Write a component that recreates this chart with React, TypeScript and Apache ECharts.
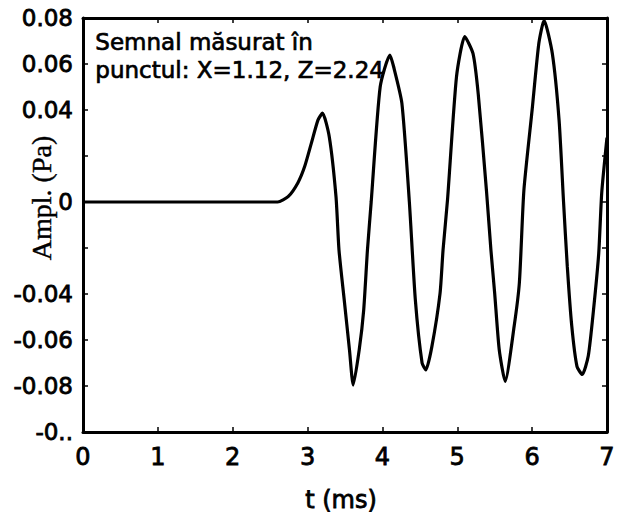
import React, { useEffect, useRef } from "react";
import * as echarts from "echarts";

// time (ms)
const timeMs = [
  0, 2.6, 2.74, 2.87, 2.96, 3.05, 3.14, 3.2, 3.29, 3.38, 3.42, 3.49, 3.56, 3.61,
  3.69, 3.75, 3.8, 3.85, 3.97, 4.1, 4.15, 4.26, 4.36, 4.44, 4.53, 4.58, 4.66,
  4.77, 4.81, 4.87, 4.99, 5.1, 5.21, 5.28, 5.39, 5.45, 5.5, 5.56, 5.64, 5.76,
  5.83, 5.89, 6.0, 6.09, 6.16, 6.27, 6.36, 6.42, 6.47, 6.53, 6.6, 6.67, 6.75,
  6.82, 6.89, 6.93, 7.0,
];
// amplitude (Pa)
const amplitudePa = [
  0, 0, 0.0023, 0.0083, 0.0153, 0.0255, 0.0357, 0.0386, 0.0284, 0.0023, -0.0209,
  -0.0426, -0.0643, -0.0796, -0.0643, -0.047, -0.0209, 0, 0.05, 0.0639, 0.0588,
  0.043, 0, -0.0426, -0.07, -0.073, -0.063, -0.0397, -0.0209, 0.001, 0.0545,
  0.0719, 0.0646, 0.047, 0.005, -0.021, -0.0397, -0.064, -0.078, -0.054, -0.035,
  0.005, 0.04, 0.069, 0.079, 0.0646, 0.0357, 0, -0.028, -0.054, -0.0716, -0.075,
  -0.067, -0.047, -0.0223, 0.004, 0.028,
];

const yTickValues = [-0.1, -0.08, -0.06, -0.04, -0.02, 0, 0.02, 0.04, 0.06, 0.08];
const yTickLabels = ["-0..", "-0.08", "-0.06", "-0.04", "", "0", "", "0.04", "0.06", "0.08"];
const xTickLabels = ["0", "1", "2", "3", "4", "5", "6", "7"];

const annotation = "Semnal măsurat în\npunctul: X=1.12, Z=2.24";
const yName = "Ampl. (Pa)";
const xName = "t (ms)";

const SANS = "DejaVu Sans";

export default function App() {
  const ref = useRef<HTMLDivElement>(null);
  useEffect(() => {
    if (!ref.current) return;
    const chart = echarts.init(ref.current, null, { renderer: "svg" });
    const yFmt = (v: number) => {
      const i = yTickValues.findIndex((t) => Math.abs(t - v) < 1e-6);
      return i >= 0 ? yTickLabels[i] : "";
    };
    const xFmt = (v: number) => {
      const i = Math.round(v);
      return Math.abs(i - v) < 1e-6 && xTickLabels[i] !== undefined ? xTickLabels[i] : "";
    };
    const axisLine = { show: true, onZero: false, lineStyle: { color: "#000", width: 3 } };
    const axisTick = { show: true, inside: true, length: 5, lineStyle: { color: "#000", width: 1.5 } };
    chart.setOption({
      animation: false,
      backgroundColor: "#fff",
      grid: { left: 83, right: 6, top: 18, bottom: 84, containLabel: false },
      xAxis: [
        {
          type: "value",
          position: "bottom",
          min: 0,
          max: 7,
          interval: 1,
          axisLine,
          axisTick,
          splitLine: { show: false },
          axisLabel: {
            formatter: xFmt,
            color: "#000",
            fontFamily: SANS,
            fontSize: 24,
            margin: 13,
            textBorderColor: "#000",
            textBorderWidth: 0.8,
            showMinLabel: true,
            showMaxLabel: true,
          },
        },
        {
          type: "value",
          position: "top",
          min: 0,
          max: 7,
          interval: 1,
          axisLine,
          axisTick,
          splitLine: { show: false },
          axisLabel: { show: false },
        },
      ],
      yAxis: [
        {
          type: "value",
          position: "left",
          min: -0.1,
          max: 0.08,
          interval: 0.02,
          axisLine,
          axisTick,
          splitLine: { show: false },
          axisLabel: {
            formatter: yFmt,
            color: "#000",
            fontFamily: SANS,
            fontSize: 23,
            margin: 10,
            textBorderColor: "#000",
            textBorderWidth: 0.8,
            showMinLabel: true,
            showMaxLabel: true,
          },
        },
        {
          type: "value",
          position: "right",
          min: -0.1,
          max: 0.08,
          interval: 0.02,
          axisLine,
          axisTick,
          splitLine: { show: false },
          axisLabel: { show: false },
        },
      ],
      series: [
        {
          type: "line",
          xAxisIndex: 0,
          yAxisIndex: 0,
          data: timeMs.map((t, i) => [t, amplitudePa[i]]),
          showSymbol: false,
          smooth: 0.2,
          lineStyle: { color: "#000", width: 3.2 },
          clip: true,
        },
      ],
      graphic: [
        {
          type: "text",
          left: 95,
          top: 28,
          style: {
            text: annotation,
            fill: "#000",
            stroke: "#000",
            lineWidth: 0.7,
            font: `23px "${SANS}"`,
            lineHeight: 28,
          },
        },
        {
          type: "text",
          x: 41,
          y: 198,
          rotation: Math.PI / 2,
          style: {
            text: yName,
            fill: "#000",
            stroke: "#000",
            lineWidth: 0.4,
            font: `28px "Liberation Serif"`,
            align: "center",
            verticalAlign: "middle",
          },
        },
        {
          type: "text",
          x: 341,
          y: 500,
          style: {
            text: xName,
            fill: "#000",
            stroke: "#000",
            lineWidth: 0.8,
            font: `24px "${SANS}"`,
            align: "center",
            verticalAlign: "middle",
          },
        },
      ],
    });
    return () => chart.dispose();
  }, []);
  return (
    <div
      ref={ref}
      style={{ position: "fixed", left: 0, top: 0, width: 618, height: 516, background: "#fff" }}
    />
  );
}
